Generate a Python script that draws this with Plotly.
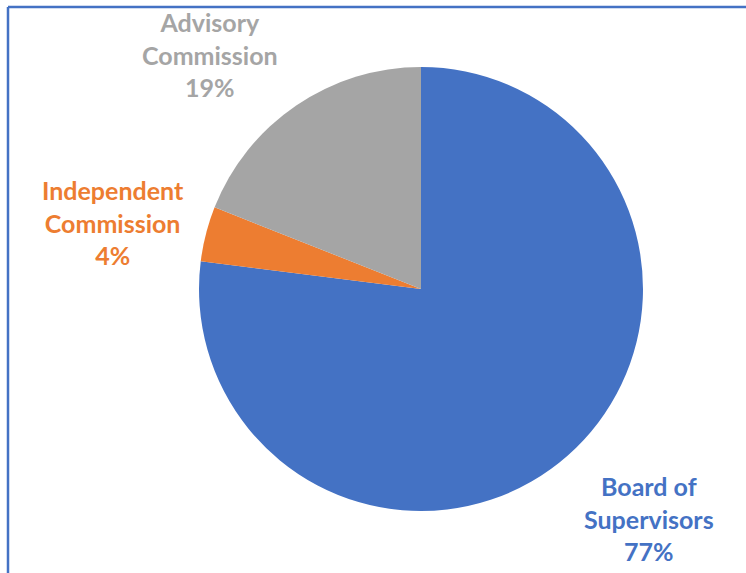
import plotly.graph_objects as go

# Share of bodies by type
labels = ["Board of<br>Supervisors", "Independent<br>Commission", "Advisory<br>Commission"]
values = [77, 4, 19]
colors = ["#4472C4", "#ED7D31", "#A5A5A5"]

# Label anchor points (paper coordinates) for each slice's callout text
label_x = [649, 113, 210]
label_y = [518, 222, 55]

W, H = 746, 573

fig = go.Figure(
    go.Pie(
        labels=labels,
        values=values,
        sort=False,
        direction="clockwise",
        rotation=0,
        marker=dict(colors=colors, line=dict(width=0)),
        textinfo="none",
        hoverinfo="label+percent",
        showlegend=False,
        domain=dict(x=[(421 - 222) / W, (421 + 222) / W],
                    y=[1 - 511 / H, 1 - 67 / H]),
    )
)

total = sum(values)
annotations = []
for lab, v, c, lx, ly in zip(labels, values, colors, label_x, label_y):
    annotations.append(
        dict(
            text=f"<b>{lab}<br>{round(100 * v / total)}%</b>",
            x=lx / W,
            y=1 - ly / H,
            xref="paper",
            yref="paper",
            xanchor="center",
            yanchor="middle",
            showarrow=False,
            align="center",
            font=dict(family="Lato", size=25, color=c),
        )
    )

# Frame line along the top and left edges
shapes = [
    dict(type="line", xref="paper", yref="paper",
         x0=8 / W, x1=1.02, y0=1 - 7 / H, y1=1 - 7 / H,
         line=dict(color="#4472C4", width=2.5)),
    dict(type="line", xref="paper", yref="paper",
         x0=8 / W, x1=8 / W, y0=-0.02, y1=1 - 7 / H,
         line=dict(color="#4472C4", width=2.5)),
]

fig.update_layout(
    width=W,
    height=H,
    margin=dict(l=0, r=0, t=0, b=0),
    paper_bgcolor="white",
    plot_bgcolor="white",
    annotations=annotations,
    shapes=shapes,
)

fig.write_html("out.html")
